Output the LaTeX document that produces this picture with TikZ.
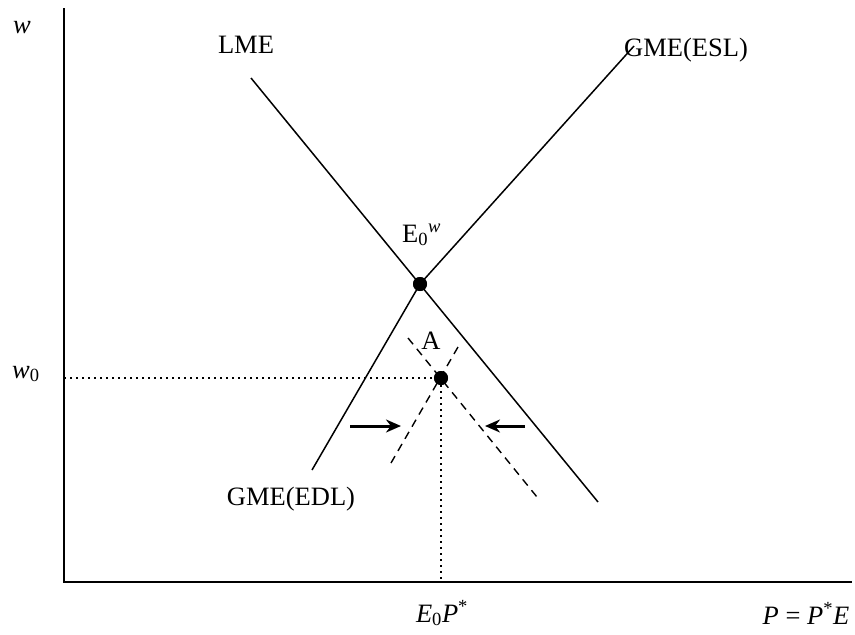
\documentclass[tikz,border=0pt]{standalone}
\usepackage{fontspec}
\setmainfont{Liberation Serif}
\usetikzlibrary{arrows.meta}
\begin{document}
\begin{tikzpicture}[x=1pt,y=-1pt,
  lbl/.style={inner sep=0pt, font=\fontsize{26.5}{31}\selectfont},
  axis/.style={line width=1.6pt},
  curve/.style={line width=1.5pt},
  guide/.style={line width=2pt, dash pattern=on 2pt off 4pt},
  shifted/.style={line width=1.4pt, dash pattern=on 8pt off 6pt},
  dot/.style={circle, fill=black, inner sep=0pt, minimum size=14pt},
  push/.style={line width=3pt, -{Stealth[length=15pt,width=13pt]}}]
\useasboundingbox (0,0) rectangle (855,635);
% coordinates
\coordinate (O) at (64,582);
\coordinate (ytop) at (64,8);
\coordinate (xend) at (852,582);
\coordinate (lmeA) at (251,78);
\coordinate (lmeB) at (598,502);
\coordinate (eslB) at (634,46);
\coordinate (edlA) at (312,470);
\coordinate (d1a) at (408,338);
\coordinate (d1b) at (537,497);
\coordinate (d2a) at (458,347);
\coordinate (d2b) at (391,463);
\coordinate (arLa) at (350,426);
\coordinate (arLb) at (401,426);
\coordinate (arRa) at (525,426);
\coordinate (arRb) at (485,426);
\coordinate (w0ax) at (64,378);
\coordinate (pax) at (441,582);
\node[dot] (E0) at (420,284) {};
\node[dot] (A) at (441,378) {};
% axes
\draw[axis] (ytop) -- (O) -- (xend);
% curves
\draw[curve] (lmeA) -- (lmeB);
\draw[curve] (E0.center) -- (eslB);
\draw[curve] (E0.center) -- (edlA);
% shifted curves
\draw[shifted] (d1a) -- (d1b);
\draw[shifted] (d2a) -- (d2b);
% guides
\draw[guide] (w0ax) -- (A.center) -- (pax);
% arrows
\draw[push] (arLa) -- (arLb);
\draw[push] (arRa) -- (arRb);
% dots on top
\node[dot] at (E0) {};
\node[dot] at (A) {};
% labels
\node[lbl, anchor=base west] (lw) at (13,33) {\textit{w}};
\node[lbl, anchor=base west] (lw0) at (12,378) {\textit{w}\textsubscript{0}};
\node[lbl, anchor=base] (llme) at (246,53) {LME};
\node[lbl, anchor=base] (lesl) at (686,56) {GME(ESL)};
\node[lbl, anchor=base] (ledl) at (291,505) {GME(EDL)};
\node[lbl, anchor=base] (lA) at (431,349) {A};
\node[lbl, anchor=base west] (lE0) at (402,242) {E\textsubscript{0}\textsuperscript{\textit{w}}};
\node[lbl, anchor=base] (lE0P) at (442,622) {\textit{E}\textsubscript{0}\textit{P}\textsuperscript{*}};
\node[lbl, anchor=base] (lP) at (806,624) {\textit{P} = \textit{P}\textsuperscript{*}\textit{E}};
\end{tikzpicture}
\end{document}
